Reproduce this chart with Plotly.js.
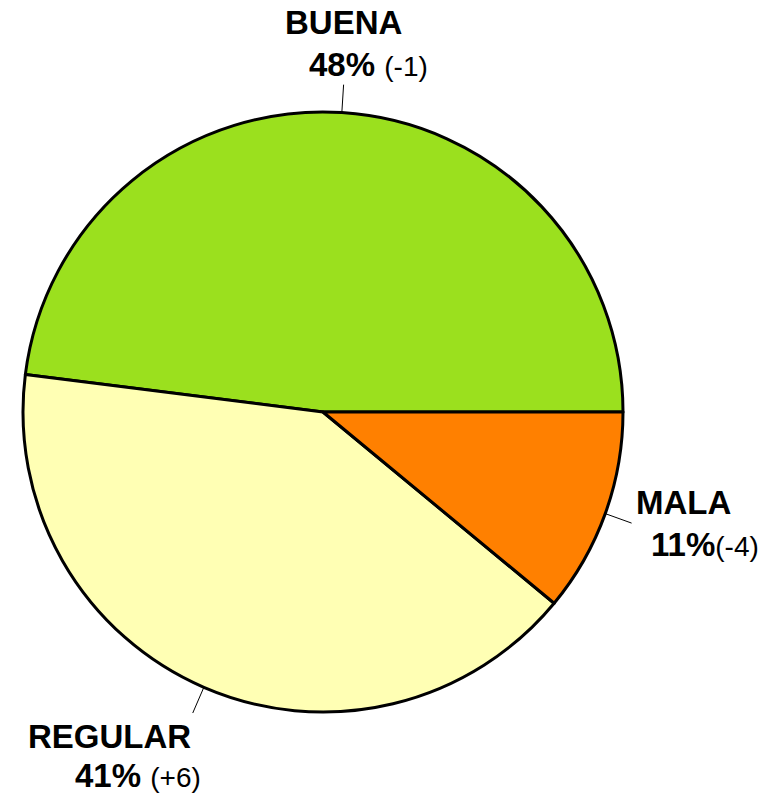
<!DOCTYPE html>
<html>
<head>
<meta charset="utf-8">
<script src="https://cdn.plot.ly/plotly-3.0.1.min.js"></script>
<style>html,body{margin:0;padding:0;background:#fff;}#chart{width:778px;height:796px;}</style>
</head>
<body>
<div id="chart"></div>
<script>
// Data
const categories = ["BUENA", "REGULAR", "MALA"];
const values = [48, 41, 11];
const changes = ["(-1)", "(+6)", "(-4)"];
const colors = ["#9BE01E", "#FFFFB4", "#FF8000"];

// Geometry (styling)
const W = 778, H = 796;
const cx = 323, cy = 412, R = 300, Rline = 328;
const startDeg = 0; // first slice starts at 3 o'clock, counterclockwise

const total = values.reduce((a, b) => a + b, 0);
const mids = [];
let acc = 0;
values.forEach(v => {
  mids.push(startDeg + (acc + v / 2) / total * 360);
  acc += v;
});
const toPaper = (px, py) => [px / W, 1 - py / H];
const polar = (deg, r) => [cx + r * Math.cos(deg * Math.PI / 180), cy - r * Math.sin(deg * Math.PI / 180)];

const shapes = [];
const ends = [];
mids.forEach(m => {
  const a = toPaper(...polar(m, R));
  const b = toPaper(...polar(m, Rline));
  ends.push(b);
  shapes.push({type: 'line', xref: 'paper', yref: 'paper', x0: a[0], y0: a[1], x1: b[0], y1: b[1],
    line: {color: '#000', width: 1}});
});

// label layout offsets per category (pixels relative to leader end)
const labelStyle = [
  {name: {xa: 'center', dx: 0, dy: -62}, pct: {xa: 'center', dx: 25, dy: -20}, sep: ' '},
  {name: {xa: 'right', dx: 0, dy: 23}, pct: {xa: 'center', dx: -55, dy: 62}, sep: ' '},
  {name: {xa: 'left', dx: 2, dy: -21}, pct: {xa: 'left', dx: 17, dy: 21}, sep: ''}
];
const font = 'Liberation Sans, Arial, sans-serif';
const annotations = [];
categories.forEach((c, i) => {
  const s = labelStyle[i];
  const e = ends[i];
  annotations.push({xref: 'paper', yref: 'paper', x: e[0], y: e[1], xshift: s.name.dx, yshift: -s.name.dy,
    xanchor: s.name.xa, yanchor: 'middle', showarrow: false,
    text: '<b>' + c + '</b>', font: {family: font, size: 33, color: '#000'}});
  annotations.push({xref: 'paper', yref: 'paper', x: e[0], y: e[1], xshift: s.pct.dx, yshift: -s.pct.dy,
    xanchor: s.pct.xa, yanchor: 'middle', showarrow: false,
    text: '<b>' + values[i] + '%</b>' + s.sep + '<span style="font-size:28px;font-weight:normal">' + changes[i] + '</span>',
    font: {family: font, size: 33, color: '#000'}});
});

// Plotly (counterclockwise): rotation marks where the first slice ends, measured clockwise from 12 o'clock
const firstEnd = startDeg + values[0] / total * 360;
const trace = {
  type: 'pie',
  labels: categories,
  values: values,
  sort: false,
  direction: 'counterclockwise',
  rotation: 90 - firstEnd,
  marker: {colors: colors, line: {color: '#000', width: 3}},
  textinfo: 'none',
  hoverinfo: 'none',
  showlegend: false,
  domain: {x: [(cx - R) / W, (cx + R) / W], y: [1 - (cy + R) / H, 1 - (cy - R) / H]}
};

Plotly.newPlot('chart', [trace], {
  width: W, height: H,
  margin: {l: 0, r: 0, t: 0, b: 0},
  paper_bgcolor: '#fff',
  showlegend: false,
  shapes: shapes,
  annotations: annotations
}, {staticPlot: true});
</script>
</body>
</html>
